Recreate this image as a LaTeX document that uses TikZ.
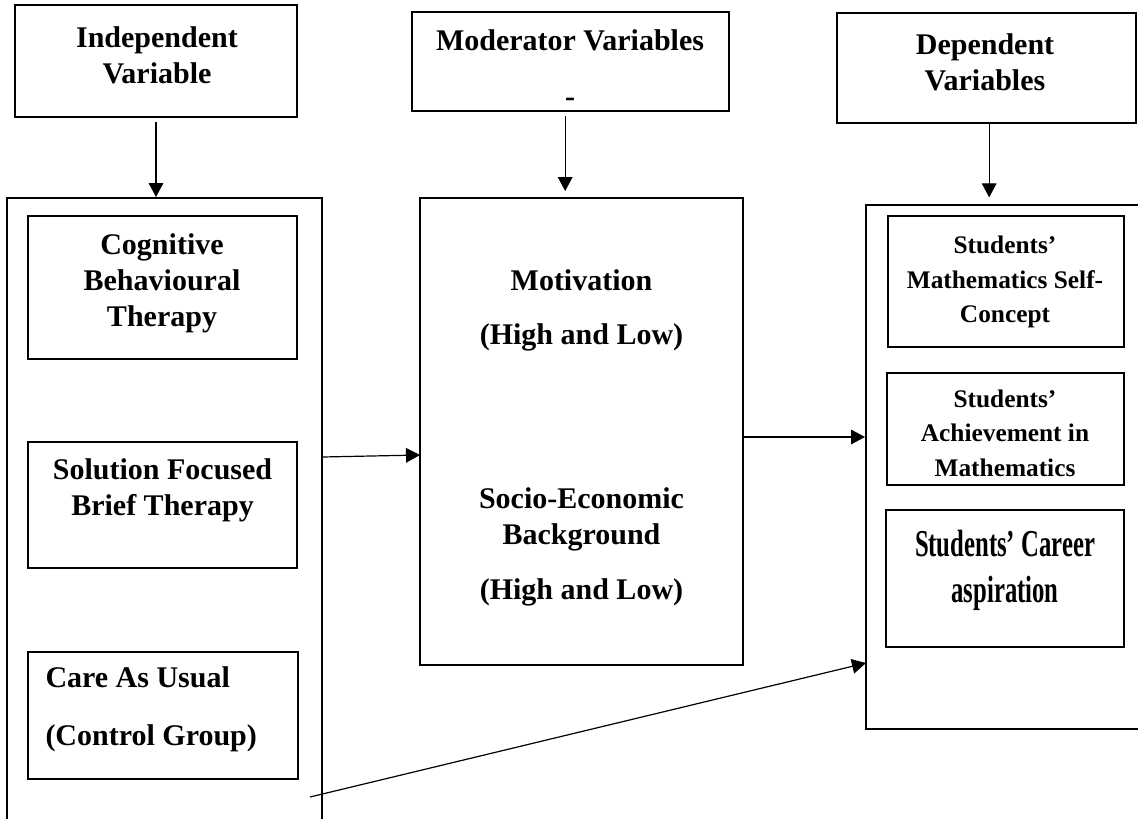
\documentclass[tikz,border=0pt]{standalone}
\usepackage{fontspec}
\setmainfont{Liberation Serif}
\newfontfamily\narrowserif[FakeStretch=0.65]{Liberation Serif}
\usetikzlibrary{arrows.meta}

\tikzset{every picture/.style={line width=0.75pt}}
\tikzset{
  box/.style={draw, line width=1.5pt, inner sep=0pt},
  sz/.style 2 args={minimum width=#1*0.75pt, minimum height=#2*0.75pt},
  txt/.style={inner sep=0.75pt, align=center, font={\fontsize{22.5}{27}\selectfont\bfseries}},
  smalltxt/.style={inner sep=0.75pt, align=center, font={\fontsize{19}{26}\selectfont\bfseries}},
  narrowtxt/.style={inner sep=0.75pt, align=center, font={\narrowserif\bfseries\fontsize{28.5}{34.5}\selectfont}},
  link/.style={line width=0.9pt, -{Triangle[length=10.5pt,width=11pt]}},
}

\begin{document}
\begin{tikzpicture}[x=0.75pt,y=0.75pt,yscale=-1,xscale=1]
%set diagram area to the page, 1138 x 818
\useasboundingbox (0,0) rectangle (1138,818);
\clip (0,0) rectangle (1138,818);

%Top boxes
\node [box, sz={282}{112}] (indepbox) at (156,61) {};
\node [box, sz={317}{99}] (moderbox) at (570.5,61.5) {};
\node [box, sz={299}{110}] (depenbox) at (986.5,68) {};

%Group boxes (left one runs off the bottom, right one off the side)
\node [box, sz={315}{642}] (ivgroup) at (164.5,519) {};
\node [box, sz={323}{467}] (modbox) at (581.5,431.5) {};
\node [box, sz={294}{524}] (dvgroup) at (1013,467) {};

%Inner boxes, left
\node [box, sz={269}{143}] (cbtbox) at (162.5,287.5) {};
\node [box, sz={269}{126}] (sfbtbox) at (162.5,505) {};
\node [box, sz={270}{127}] (caubox) at (163,715.5) {};
%Inner boxes, right
\node [box, sz={236}{131}] (selfbox) at (1006,281.5) {};
\node [box, sz={237}{112}] (achvbox) at (1005.5,429) {};
\node [box, sz={238}{137}] (carbox) at (1005,578.5) {};

% Text Node
\node [txt] (indeptext) at (157,55) {Independent\\Variable};
% Text Node
\node [txt] (modertext) at (570,68) {Moderator Variables\\[15pt]-};
% Text Node
\node [txt] (depentext) at (985,62) {Dependent\\Variables};
% Text Node
\node [txt] (cbttext) at (162,283) {Cognitive\\Behavioural\\Therapy};
% Text Node
\node [txt] (sfbttext) at (162.5,490) {Solution Focused\\Brief Therapy};
% Text Node
\node [txt, align=left, anchor=west] (cautext) at (44,709) {Care As Usual\\[16.5pt](Control Group)};
% Text Node
\node [txt] (motivtext) at (581.5,310) {Motivation\\[13.5pt](High and Low)};
% Text Node
\node [txt] (sestext) at (581.5,547) {Socio-Economic\\Background\\[14pt](High and Low)};
% Text Node
\node [smalltxt] (selftext) at (1005,282) {Students’\\Mathematics Self-\\Concept};
% Text Node
\node [smalltxt] (achvtext) at (1005,433) {Students’\\Achievement in\\Mathematics};
% Text Node
\node [narrowtxt] (cartext) at (1005,570) {Students’ Career\\aspiration};

%Free ends of the slanted links
\coordinate (ivout) at (322,457);
\coordinate (modin) at (420,455);
\coordinate (cauout) at (310,797);
\coordinate (dvin) at (866,663);

%Arrows
\draw [link, shorten <=3pt] (indepbox.south) -- (indepbox.south |- ivgroup.north);
\draw [link, shorten <=3pt, shorten >=4.5pt] ([xshift=-4pt]moderbox.south) -- ([xshift=-4pt]moderbox.south |- modbox.north);
\draw [link, shorten >=5pt] ([xshift=2pt]depenbox.south) -- ([xshift=2pt]depenbox.south |- dvgroup.north);
\draw [link] (ivout) -- (modin);
\draw [link] (modbox.east |- 0,437) -- (dvgroup.west |- 0,437);
\draw [link] (cauout) -- (dvin);

\end{tikzpicture}
\end{document}
